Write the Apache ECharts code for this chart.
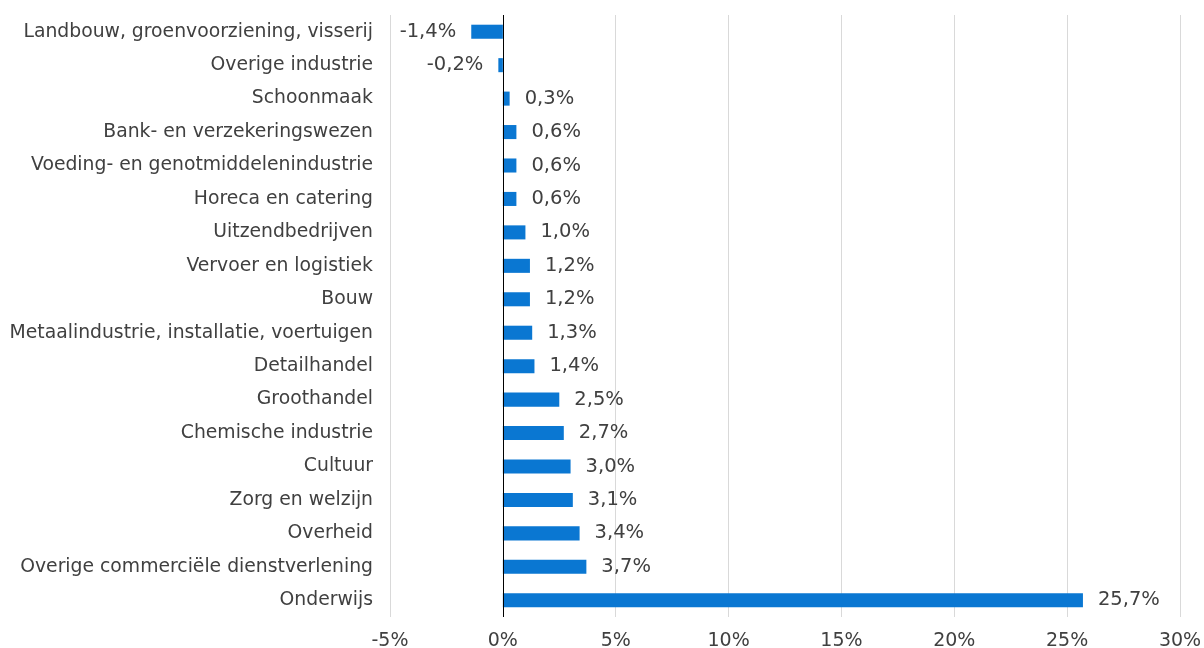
<!DOCTYPE html>
<html>
<head>
<meta charset="utf-8">
<script src="https://cdn.jsdelivr.net/npm/echarts@6/dist/echarts.min.js"></script>
<style>html,body{margin:0;padding:0;background:#fff;}#c{width:1204px;height:648px;}</style>
</head>
<body>
<div id="c"></div>
<script>
var categories = [
  "Landbouw, groenvoorziening, visserij",
  "Overige industrie",
  "Schoonmaak",
  "Bank- en verzekeringswezen",
  "Voeding- en genotmiddelenindustrie",
  "Horeca en catering",
  "Uitzendbedrijven",
  "Vervoer en logistiek",
  "Bouw",
  "Metaalindustrie, installatie, voertuigen",
  "Detailhandel",
  "Groothandel",
  "Chemische industrie",
  "Cultuur",
  "Zorg en welzijn",
  "Overheid",
  "Overige commerciële dienstverlening",
  "Onderwijs"
];
var values = [-1.4, -0.2, 0.3, 0.6, 0.6, 0.6, 1.0, 1.2, 1.2, 1.3, 1.4, 2.5, 2.7, 3.0, 3.1, 3.4, 3.7, 25.7];
var xMin = -5, xMax = 30, xStep = 5;

var FONT = "DejaVu Sans";
var chart = echarts.init(document.getElementById('c'), null, {renderer: 'canvas'});
var data = values.map(function (v) {
  return {value: v, label: {position: v < 0 ? 'left' : 'right'}};
});
chart.setOption({
  animation: false,
  grid: {left: 390, right: 24, top: 15, bottom: 31, containLabel: false, outerBoundsMode: 'none'},
  xAxis: {
    type: 'value', min: xMin, max: xMax, interval: xStep,
    axisLine: {show: false}, axisTick: {show: false},
    splitLine: {show: true, lineStyle: {color: '#d9d9d9', width: 1}},
    axisLabel: {
      color: '#404040', fontFamily: FONT, fontSize: 19, margin: 15,
      formatter: function (v) { return v + '%'; }
    }
  },
  yAxis: {
    type: 'category', data: categories, inverse: true,
    axisLine: {show: false, onZero: false}, axisTick: {show: false},
    axisLabel: {color: '#404040', fontFamily: FONT, fontSize: 18.8, margin: 17}
  },
  series: [{
    type: 'bar', data: data, barWidth: '42%',
    itemStyle: {color: '#0a77d2'},
    label: {
      show: true, distance: 15, color: '#404040', fontFamily: FONT, fontSize: 19.5,
      formatter: function (p) { return String(p.value.toFixed(1)).replace('.', ',') + '%'; }
    },
    markLine: {
      silent: true, symbol: 'none', label: {show: false},
      lineStyle: {color: '#000', width: 1, type: 'solid'},
      data: [{xAxis: 0}]
    }
  }]
});
</script>
</body>
</html>
